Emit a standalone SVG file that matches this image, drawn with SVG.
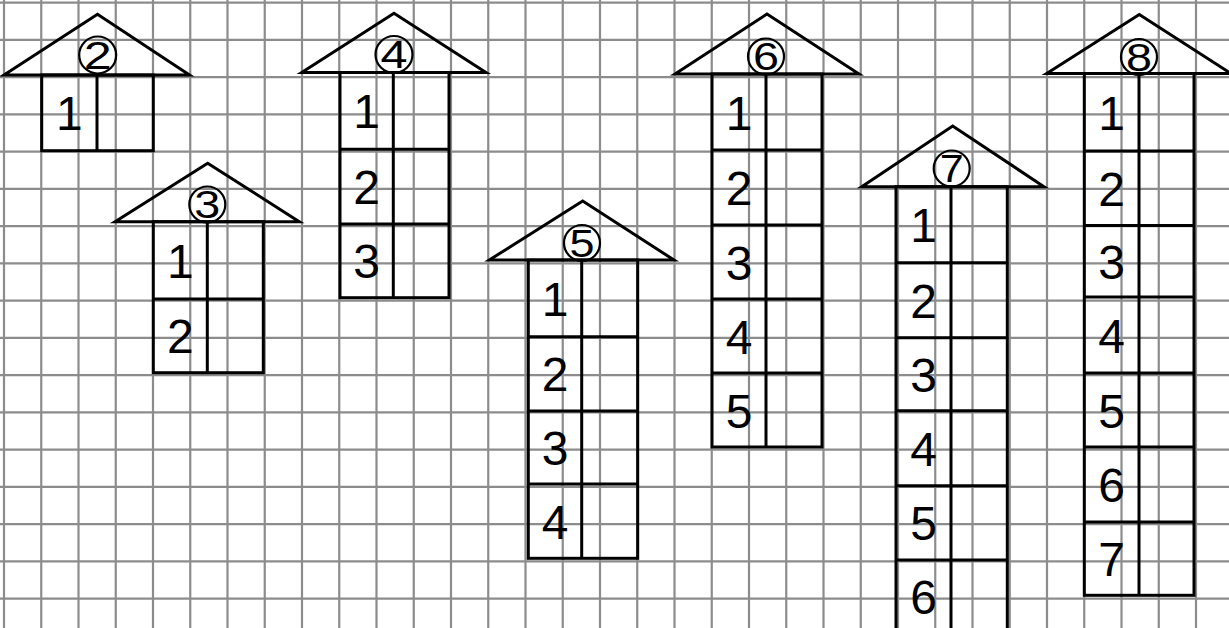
<svg xmlns="http://www.w3.org/2000/svg" width="1229" height="628" viewBox="0 0 1229 628">
<style>
.g line{stroke:#8c8c8c;stroke-width:2.2}
.h polygon,.h line,.h rect{fill:none;stroke:#000;stroke-width:3}
.h circle{fill:none;stroke:#000;stroke-width:2.2}
.n{font-family:"Liberation Sans",Arial,sans-serif;font-size:48px;text-anchor:middle;fill:#000}
.c{font-family:"Liberation Sans",Arial,sans-serif;font-size:38px;text-anchor:middle;fill:#000}
</style>
<rect width="1229" height="628" fill="#fff"/>
<g id="grid" class="g">
<line x1="4" y1="0" x2="4" y2="628"/><line x1="41.25" y1="0" x2="41.25" y2="628"/><line x1="78.5" y1="0" x2="78.5" y2="628"/><line x1="115.75" y1="0" x2="115.75" y2="628"/><line x1="153" y1="0" x2="153" y2="628"/><line x1="190.25" y1="0" x2="190.25" y2="628"/><line x1="227.5" y1="0" x2="227.5" y2="628"/><line x1="264.75" y1="0" x2="264.75" y2="628"/><line x1="302" y1="0" x2="302" y2="628"/><line x1="339.25" y1="0" x2="339.25" y2="628"/><line x1="376.5" y1="0" x2="376.5" y2="628"/><line x1="413.75" y1="0" x2="413.75" y2="628"/><line x1="451" y1="0" x2="451" y2="628"/><line x1="488.25" y1="0" x2="488.25" y2="628"/><line x1="525.5" y1="0" x2="525.5" y2="628"/><line x1="562.75" y1="0" x2="562.75" y2="628"/><line x1="600" y1="0" x2="600" y2="628"/><line x1="637.25" y1="0" x2="637.25" y2="628"/><line x1="674.5" y1="0" x2="674.5" y2="628"/><line x1="711.75" y1="0" x2="711.75" y2="628"/><line x1="749" y1="0" x2="749" y2="628"/><line x1="786.25" y1="0" x2="786.25" y2="628"/><line x1="823.5" y1="0" x2="823.5" y2="628"/><line x1="860.75" y1="0" x2="860.75" y2="628"/><line x1="898" y1="0" x2="898" y2="628"/><line x1="935.25" y1="0" x2="935.25" y2="628"/><line x1="972.5" y1="0" x2="972.5" y2="628"/><line x1="1009.75" y1="0" x2="1009.75" y2="628"/><line x1="1047" y1="0" x2="1047" y2="628"/><line x1="1084.25" y1="0" x2="1084.25" y2="628"/><line x1="1121.5" y1="0" x2="1121.5" y2="628"/><line x1="1158.75" y1="0" x2="1158.75" y2="628"/><line x1="1196" y1="0" x2="1196" y2="628"/>
<line x1="0" y1="2.7" x2="1229" y2="2.7"/><line x1="0" y1="39.95" x2="1229" y2="39.95"/><line x1="0" y1="77.2" x2="1229" y2="77.2"/><line x1="0" y1="114.45" x2="1229" y2="114.45"/><line x1="0" y1="151.7" x2="1229" y2="151.7"/><line x1="0" y1="188.95" x2="1229" y2="188.95"/><line x1="0" y1="226.2" x2="1229" y2="226.2"/><line x1="0" y1="263.45" x2="1229" y2="263.45"/><line x1="0" y1="300.7" x2="1229" y2="300.7"/><line x1="0" y1="337.95" x2="1229" y2="337.95"/><line x1="0" y1="375.2" x2="1229" y2="375.2"/><line x1="0" y1="412.45" x2="1229" y2="412.45"/><line x1="0" y1="449.7" x2="1229" y2="449.7"/><line x1="0" y1="486.95" x2="1229" y2="486.95"/><line x1="0" y1="524.2" x2="1229" y2="524.2"/><line x1="0" y1="561.45" x2="1229" y2="561.45"/><line x1="0" y1="598.7" x2="1229" y2="598.7"/>
</g>
<g id="house2" class="h">
<polygon points="4,75 97.5,14.3 189.5,75"/>
<rect x="41.7" y="75" width="111.6" height="75.7"/>
<line x1="97" y1="75" x2="97" y2="150.7"/>
<circle cx="97.7" cy="55" r="18.5"/>
<text class="c" x="97.7" y="68.5" textLength="28" lengthAdjust="spacingAndGlyphs">2</text>
<text class="n" x="69.4" y="130.4">1</text>
</g>
<g id="house3" class="h">
<polygon points="115,221.7 207.7,163.3 299.3,221.7"/>
<rect x="153.3" y="221.7" width="110" height="151"/>
<line x1="207.3" y1="221.7" x2="207.3" y2="372.7"/>
<line x1="153.3" y1="299" x2="263.3" y2="299"/>
<circle cx="207.3" cy="204.5" r="18"/>
<text class="c" x="207.3" y="218" textLength="26" lengthAdjust="spacingAndGlyphs">3</text>
<text class="n" x="180.3" y="278">1</text>
<text class="n" x="180.3" y="353.4">2</text>
</g>
<g id="house4" class="h">
<polygon points="301.7,72.5 394,13.3 486,72.5"/>
<rect x="340" y="72.5" width="109" height="225.2"/>
<line x1="393.3" y1="72.5" x2="393.3" y2="297.7"/>
<line x1="340" y1="149.3" x2="449" y2="149.3"/>
<line x1="340" y1="224" x2="449" y2="224"/>
<circle cx="394" cy="54.5" r="18.5"/>
<text class="c" x="394" y="68" textLength="27" lengthAdjust="spacingAndGlyphs">4</text>
<text class="n" x="366.7" y="128.2">1</text>
<text class="n" x="366.7" y="204.2">2</text>
<text class="n" x="366.7" y="278.4">3</text>
</g>
<g id="house5" class="h">
<polygon points="489.3,260 582.7,201 674,260"/>
<rect x="528.3" y="260" width="109.4" height="298.3"/>
<line x1="581.7" y1="260" x2="581.7" y2="558.3"/>
<line x1="528.3" y1="336.7" x2="637.7" y2="336.7"/>
<line x1="528.3" y1="411" x2="637.7" y2="411"/>
<line x1="528.3" y1="484" x2="637.7" y2="484"/>
<circle cx="582" cy="243" r="18"/>
<text class="c" x="582" y="256.5" textLength="25" lengthAdjust="spacingAndGlyphs">5</text>
<text class="n" x="555" y="315.9">1</text>
<text class="n" x="555" y="391.4">2</text>
<text class="n" x="555" y="465">3</text>
<text class="n" x="555" y="538.7">4</text>
</g>
<g id="house6" class="h">
<polygon points="675,74 767,14 859,74"/>
<rect x="712" y="74" width="110" height="373"/>
<line x1="766" y1="74" x2="766" y2="447"/>
<line x1="712" y1="150" x2="822" y2="150"/>
<line x1="712" y1="225" x2="822" y2="225"/>
<line x1="712" y1="299" x2="822" y2="299"/>
<line x1="712" y1="373" x2="822" y2="373"/>
<circle cx="766" cy="56.5" r="18"/>
<text class="c" x="766" y="70" textLength="26" lengthAdjust="spacingAndGlyphs">6</text>
<text class="n" x="739" y="129.5">1</text>
<text class="n" x="739" y="205">2</text>
<text class="n" x="739" y="279.5">3</text>
<text class="n" x="739" y="353.5">4</text>
<text class="n" x="739" y="427.5">5</text>
</g>
<g id="house7" class="h">
<polygon points="861.7,186.7 952.7,126 1044,186.7"/>
<rect x="896" y="186.7" width="111.3" height="460"/>
<line x1="951" y1="186.7" x2="951" y2="646"/>
<line x1="896" y1="262.7" x2="1007.3" y2="262.7"/>
<line x1="896" y1="337.7" x2="1007.3" y2="337.7"/>
<line x1="896" y1="410.7" x2="1007.3" y2="410.7"/>
<line x1="896" y1="485.7" x2="1007.3" y2="485.7"/>
<line x1="896" y1="560" x2="1007.3" y2="560"/>
<circle cx="951.7" cy="168.5" r="18"/>
<text class="c" x="951.7" y="182" textLength="24" lengthAdjust="spacingAndGlyphs">7</text>
<text class="n" x="923.5" y="242.2">1</text>
<text class="n" x="923.5" y="317.7">2</text>
<text class="n" x="923.5" y="391.7">3</text>
<text class="n" x="923.5" y="465.7">4</text>
<text class="n" x="923.5" y="540.4">5</text>
<text class="n" x="923.5" y="614">6</text>
</g>
<g id="house8" class="h">
<polygon points="1046.7,73.5 1139.3,14.5 1231,73.5"/>
<rect x="1084.3" y="73.5" width="109.7" height="521.8"/>
<line x1="1139" y1="73.5" x2="1139" y2="595.3"/>
<line x1="1084.3" y1="151" x2="1194" y2="151"/>
<line x1="1084.3" y1="225.5" x2="1194" y2="225.5"/>
<line x1="1084.3" y1="297" x2="1194" y2="297"/>
<line x1="1084.3" y1="373" x2="1194" y2="373"/>
<line x1="1084.3" y1="447" x2="1194" y2="447"/>
<line x1="1084.3" y1="522" x2="1194" y2="522"/>
<circle cx="1139" cy="57" r="18"/>
<text class="c" x="1139" y="70.5" textLength="26" lengthAdjust="spacingAndGlyphs">8</text>
<text class="n" x="1111.7" y="129.6">1</text>
<text class="n" x="1111.7" y="205.8">2</text>
<text class="n" x="1111.7" y="278.8">3</text>
<text class="n" x="1111.7" y="352.5">4</text>
<text class="n" x="1111.7" y="427.5">5</text>
<text class="n" x="1111.7" y="502">6</text>
<text class="n" x="1111.7" y="576.2">7</text>
</g>
</svg>
